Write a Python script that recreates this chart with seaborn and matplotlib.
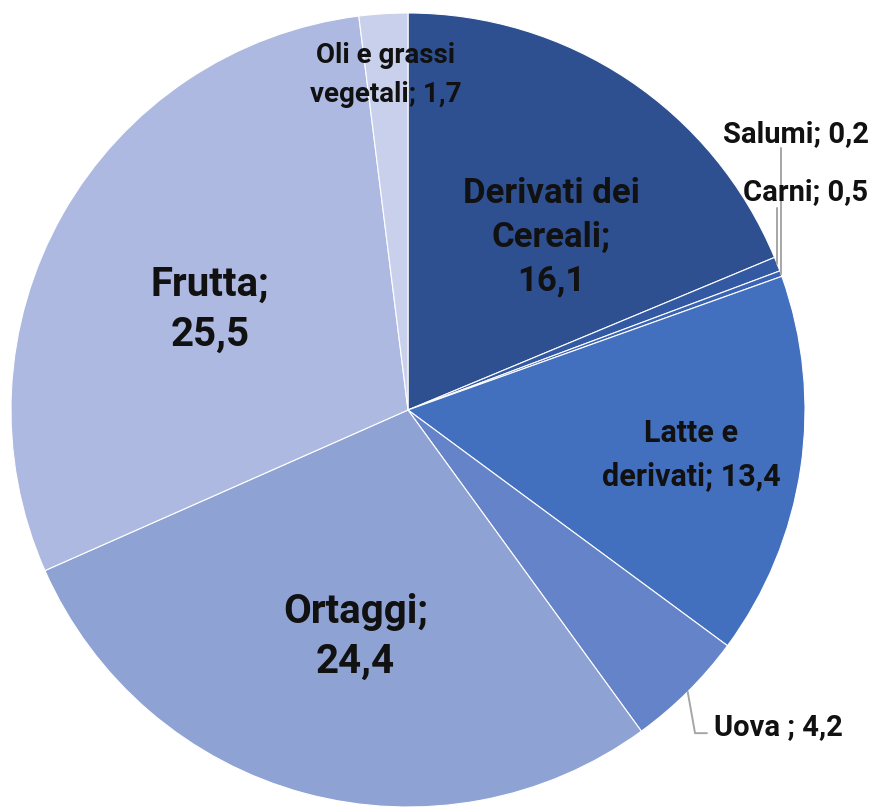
import numpy as np
import matplotlib
matplotlib.use('Agg')
import matplotlib.pyplot as plt
import seaborn as sns

# data, clockwise from 12 o'clock
categories = ['Derivati dei Cereali', 'Carni', 'Salumi', 'Latte e derivati',
              'Uova ', 'Ortaggi', 'Frutta', 'Oli e grassi vegetali']
values = [16.1, 0.5, 0.2, 13.4, 4.2, 24.4, 25.5, 1.7]
label_texts = ['Derivati dei\nCereali;\n16,1', 'Carni; 0,5', 'Salumi; 0,2',
               'Latte e\nderivati; 13,4', 'Uova ; 4,2', 'Ortaggi;\n24,4',
               'Frutta;\n25,5', 'Oli e grassi\nvegetali; 1,7']

colors = ['#2F5090', '#3359A3', '#3A63B4', '#4270BF',
          '#6583C8', '#8FA2D4', '#ADB9E0', '#C8D0EB']

sns.set_theme(style='white')
plt.rcParams['font.family'] = ['Roboto', 'DejaVu Sans']

W, H = 880, 807
cx, cy, R = 408, 410, 397
fig = plt.figure(figsize=(W / 100, H / 100), dpi=100)
ax = fig.add_axes([0, 0, 1, 1])

wedges, _ = ax.pie(values, colors=colors, startangle=90, counterclock=False,
                   radius=1, wedgeprops=dict(edgecolor='white', linewidth=0.8))
ax.set_xlim(-cx / R, (W - cx) / R)
ax.set_ylim(-(H - cy) / R, cy / R)
ax.set_aspect('equal')
ax.axis('off')


def mid_dir(w, shift=0.0):
    a = np.deg2rad((w.theta1 + w.theta2) / 2 + shift)
    return np.cos(a), np.sin(a)


# labels inside the slices: index -> (radius, angle shift, font size, line spacing)
inside = {0: (0.565, -5.9, 25, 1.4), 3: (0.722, -0.6, 22, 1.55),
          5: (0.587, 2.0, 29, 1.4), 6: (0.559, 2.7, 29, 1.4),
          7: (0.846, 0.2, 20, 1.55)}
for i, (r, sh, fs, ls) in inside.items():
    dx, dy = mid_dir(wedges[i], sh)
    ax.text(r * dx, r * dy, label_texts[i], ha='center', va='center',
            fontsize=fs, fontweight='bold', color='#111111', linespacing=ls)

line_col = '#a6a6a6'
# Carni and Salumi: vertical leader lines
for i, top, tx, ty in [(1, 0.509, 1.0, 0.529), (2, 0.66, 0.977, 0.675)]:
    dx, dy = mid_dir(wedges[i])
    ax.plot([dx, dx], [dy, top], color=line_col, lw=1.4)
    ax.text(tx, ty, label_texts[i], ha='center', va='baseline',
            fontsize=21, fontweight='bold', color='#111111')

# Uova: elbow leader line
dx, dy = mid_dir(wedges[4])
ax.plot([dx, 0.723, 0.753], [dy, -0.814, -0.814], color=line_col, lw=1.4)
ax.text(0.771, -0.819, label_texts[4], ha='left', va='baseline',
        fontsize=21, fontweight='bold', color='#111111')

fig.savefig('out.png', dpi=100)
